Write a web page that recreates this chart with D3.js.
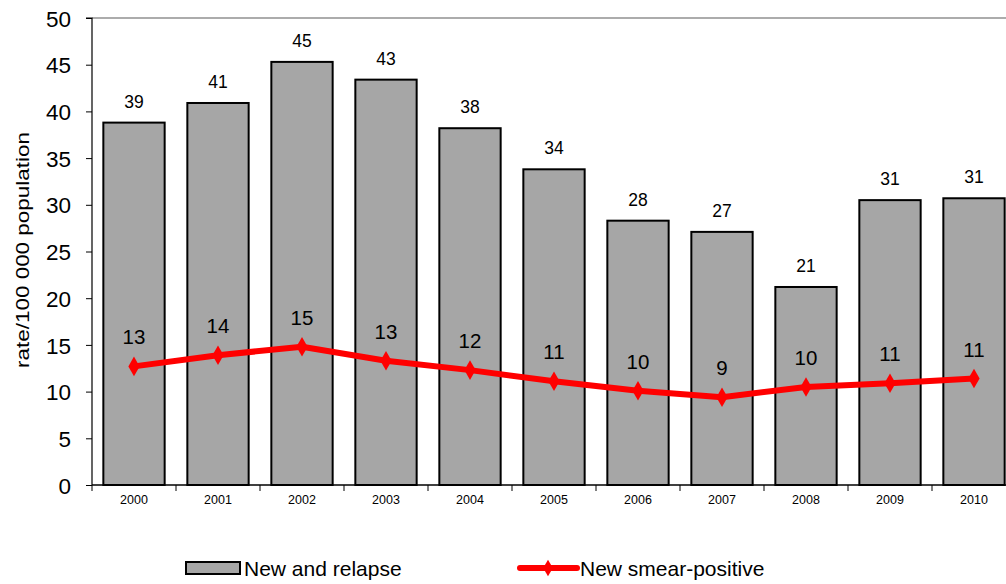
<!DOCTYPE html>
<html><head><meta charset="utf-8">
<script src="https://cdn.jsdelivr.net/npm/d3@7"></script>
<style>body{margin:0;background:#fff}svg{display:block;font-family:"Liberation Sans",Arial,sans-serif}</style>
</head><body><svg id="c" width="1006" height="584"></svg>
<script>
const years = ["2000","2001","2002","2003","2004","2005","2006","2007","2008","2009","2010"];
const newRelapse = [38.8,40.9,45.3,43.4,38.2,33.8,28.3,27.1,21.2,30.5,30.7];
const newRelapseLabels = ["39","41","45","43","38","34","28","27","21","31","31"];
const smearPos = [12.7,13.9,14.8,13.3,12.3,11.1,10.1,9.4,10.5,10.9,11.4];
const smearPosLabels = ["13","14","15","13","12","11","10","9","10","11","11"];
const yTicks = [0,5,10,15,20,25,30,35,40,45,50];
const seriesNames = ["New and relapse","New smear-positive"];

const svg = d3.select("#c");
const L=92, R=1016, T=18, B=485;
const x = d3.scaleBand().domain(years).range([L,R]).paddingInner(0.27).paddingOuter(0.135);
const xc = d3.scaleBand().domain(years).range([L,R]);
const y = d3.scaleLinear().domain([0,50]).range([B,T]);

// top border
svg.append("line").attr("x1",L).attr("x2",R).attr("y1",T).attr("y2",T).attr("stroke","#909090").attr("stroke-width",1.5);

// bars
svg.selectAll("rect.bar").data(years).join("rect").attr("class","bar")
  .attr("x",d=>x(d)).attr("width",x.bandwidth())
  .attr("y",(d,i)=>y(newRelapse[i])).attr("height",(d,i)=>B-y(newRelapse[i]))
  .attr("fill","#a6a6a6").attr("stroke","#000").attr("stroke-width",2);

svg.selectAll("text.bl").data(years).join("text").attr("class","bl")
  .attr("x",d=>x(d)+x.bandwidth()/2).attr("y",(d,i)=>y(newRelapse[i])-15)
  .attr("text-anchor","middle").attr("font-size",17.5).text((d,i)=>newRelapseLabels[i]);

// y axis
const ya = svg.append("g").attr("transform",`translate(${L},0)`)
  .call(d3.axisLeft(y).tickValues(yTicks).tickSize(6).tickPadding(15));
ya.selectAll("text").attr("font-size",22.5).attr("fill","#000").attr("dy","0.36em").style("font-family","Liberation Sans, Arial, sans-serif");
ya.selectAll("line,path").attr("stroke","#000");
ya.select("path").attr("d",`M-6,${T}H0V${B}`).attr("stroke-width",1.2);

// x axis
const xa = svg.append("g").attr("transform",`translate(0,${B})`);
xa.append("line").attr("x1",L).attr("x2",R).attr("stroke","#000").attr("stroke-width",1.5);
xa.selectAll("line.t").data(years).join("line").attr("class","t")
  .attr("x1",d=>xc(d)).attr("x2",d=>xc(d)).attr("y1",0).attr("y2",6).attr("stroke","#000");
xa.selectAll("text").data(years).join("text")
  .attr("x",d=>xc(d)+xc.bandwidth()/2).attr("y",19).attr("text-anchor","middle")
  .attr("font-size",12.5).text(d=>d);

// line
const cx = d=>x(d)+x.bandwidth()/2;
svg.append("path").datum(years).attr("fill","none").attr("stroke","#ff0000").attr("stroke-width",6)
  .attr("stroke-linejoin","round")
  .attr("d",d3.line().x(d=>cx(d)).y((d,i)=>y(smearPos[i])));
svg.selectAll("path.mk").data(years).join("path").attr("class","mk")
  .attr("transform",(d,i)=>`translate(${cx(d)},${y(smearPos[i])})`)
  .attr("d",d3.symbol(d3.symbolDiamond,110)).attr("fill","#ff0000");
svg.selectAll("text.ll").data(years).join("text").attr("class","ll")
  .attr("x",d=>cx(d)).attr("y",(d,i)=>y(smearPos[i])-22)
  .attr("text-anchor","middle").attr("font-size",20.5).text((d,i)=>smearPosLabels[i]);

// y title
svg.append("text").attr("transform","translate(29,0) rotate(-90)").attr("text-anchor","start")
  .attr("x",-368).attr("font-size",19).attr("textLength",236).attr("lengthAdjust","spacingAndGlyphs")
  .text("rate/100 000 population");

// legend
svg.append("rect").attr("x",186).attr("y",562).attr("width",54).attr("height",12)
  .attr("fill","#a6a6a6").attr("stroke","#000").attr("stroke-width",2);
svg.append("text").attr("x",244).attr("y",576).attr("font-size",21).text(seriesNames[0]);
svg.append("line").attr("x1",520).attr("x2",577).attr("y1",568).attr("y2",568).attr("stroke","#ff0000").attr("stroke-width",6).attr("stroke-linecap","round");
svg.append("path").attr("transform","translate(548,568)").attr("d",d3.symbol(d3.symbolDiamond,80)).attr("fill","#ff0000");
svg.append("text").attr("x",580).attr("y",576).attr("font-size",21).text(seriesNames[1]);
</script></body></html>
